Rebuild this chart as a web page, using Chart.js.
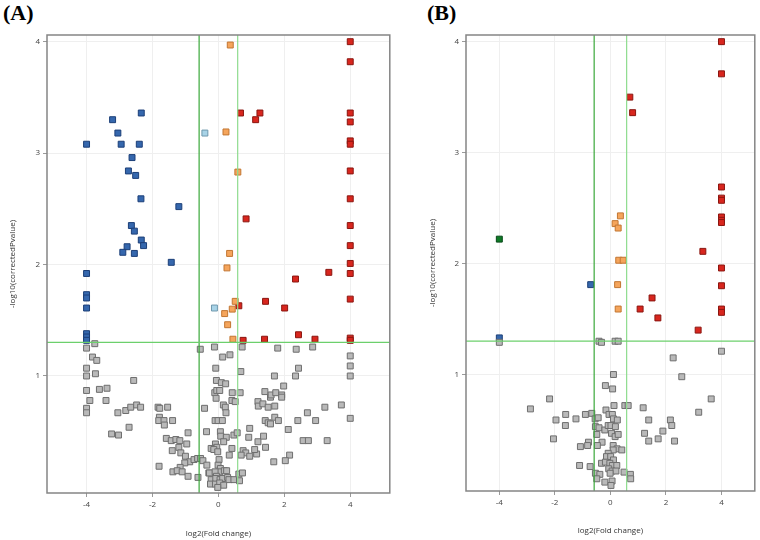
<!DOCTYPE html>
<html>
<head>
<meta charset="utf-8">
<script src="https://cdn.jsdelivr.net/npm/chart.js@4.4.0/dist/chart.umd.min.js"></script>
<style>
  body { margin: 0; background: #fff; width: 760px; height: 540px; overflow: hidden; position: relative; }
  .panel { position: absolute; top: 0; height: 540px; }
  .tag { position: absolute; top: 0; font: bold 22px "Liberation Serif", serif; color: #000; }
</style>
</head>
<body>
<div class="tag" style="left:3px">(A)</div>
<div class="tag" style="left:427px">(B)</div>
<div class="panel" style="left:0;width:395px"><canvas id="chartA"></canvas></div>
<div class="panel" style="left:420px;width:340px"><canvas id="chartB"></canvas></div>
<script>
// thresholds: |log2 FC| > log2(1.5), corrected p < 0.05
var FC_LO = -0.585;
var FC_HI = 0.585;
var P_CUT = 1.301;
var xTicks = [-4, -2, 0, 2, 4];
var yTicks = [1, 2, 3, 4];

// Panel A, [log2 fold change, -log10 corrected p]
var aDown = [[-2.34,3.36],[-3.21,3.30],[-3.05,3.18],[-4,3.08],[-2.95,3.08],[-2.40,3.08],[-2.62,2.96],
  [-2.73,2.84],[-2.51,2.80],[-2.35,2.59],[-1.20,2.52],[-2.64,2.35],[-2.55,2.30],[-2.34,2.22],[-2.27,2.17],
  [-2.77,2.16],[-2.90,2.11],[-2.55,2.10],[-1.43,2.02],[-4,1.92],[-4,1.73],[-4,1.70],[-4,1.61],
  [-4,1.38],[-4,1.35],[-4,1.32]];
var aDownSmall = [[-0.41,3.18],[-0.12,1.61]];
var aUpSmall = [[0.36,3.97],[0.23,3.19],[0.59,2.83],[0.34,2.10],[0.26,1.97],[0.51,1.67],[0.42,1.60],
  [0.19,1.56],[0.28,1.46],[0.44,1.33]];
var aUp = [[0.67,3.36],[1.26,3.36],[1.13,3.30],[0.84,2.41],[2.34,1.87],[3.35,1.93],[0.62,1.63],
  [1.43,1.67],[2.01,1.61],[0.75,1.32],[1.40,1.33],[2.43,1.37],[2.93,1.33],
  [4,4.0],[4,3.82],[4,3.36],[4,3.28],[4,3.11],[4,3.08],[4,2.84],[4,2.59],[4,2.35],[4,2.17],
  [4,2.01],[4,1.92],[4,1.69],[4,1.34],[4,1.32]];
var aNone = [[-4,1.25],[-3.75,1.29],[-3.82,1.17],[-3.69,1.14],[-4,1.07],[-4,1.0],[-3.73,1.02],[-2.57,0.96],
  [-4,0.87],[-3.61,0.88],[-3.38,0.89],[-3.9,0.78],[-3.41,0.78],[-4,0.71],[-4,0.67],[-3.05,0.67],
  [-2.81,0.69],[-2.66,0.72],[-2.48,0.74],[-2.36,0.72],[-1.83,0.72],[-1.78,0.71],[-1.54,0.72],
  [-1.79,0.63],[-1.81,0.60],[-1.65,0.60],[-1.64,0.56],[-1.39,0.60],[-2.71,0.54],[-3.24,0.48],
  [-3.03,0.47],[-0.92,0.49],[-1.58,0.44],[-1.43,0.42],[-1.29,0.43],[-1.17,0.42],[-0.96,0.39],
  [-1.20,0.36],[-1.40,0.33],[-1.14,0.31],[-1.0,0.28],[-0.87,0.23],[-0.74,0.25],[-0.63,0.26],
  [-0.54,0.26],[-0.47,0.24],[-1.02,0.22],[-1.16,0.18],[-1.80,0.19],[-1.38,0.14],[-1.25,0.15],
  [-1.10,0.14],[-0.92,0.10],[-0.62,0.09],[-0.35,0.20],[-0.29,0.13],[-0.42,0.71],[-0.36,0.50],
  [-0.55,1.24],[-0.12,1.26],[0.13,1.17],[0.35,1.19],[0.72,1.26],[-0.08,1.07],[0.68,1.04],
  [-0.06,0.96],[0.09,0.94],[0.22,0.93],[-0.11,0.85],[-0.05,0.87],[0.04,0.87],[0.42,0.85],
  [0.66,0.85],[-0.07,0.80],[0.41,0.78],[0.51,0.77],[0.15,0.74],[0.21,0.72],[0.23,0.67],
  [-0.10,0.60],[-0.01,0.60],[0.12,0.60],[0.06,0.50],[0.07,0.46],[0.24,0.45],[0.47,0.47],
  [0.57,0.49],[-0.09,0.39],[-0.05,0.36],[-0.22,0.35],[-0.14,0.34],[0.41,0.35],[0.16,0.41],
  [0.33,0.29],[-0.02,0.32],[0.02,0.25],[-0.01,0.20],[0.06,0.17],[0.04,0.14],[0.18,0.15],
  [0.25,0.15],[-0.27,0.13],[-0.10,0.14],[-0.06,0.10],[-0.22,0.07],[-0.08,0.08],[0.05,0.07],
  [0.13,0.08],[0.28,0.09],[0.32,0.07],[0.47,0.07],[0.62,0.12],[0.73,0.13],[0.64,0.06],
  [-0.24,0.03],[-0.09,0.03],[0.04,0.04],[0.16,0.02],[-0.02,0.0],[0.75,0.33],[0.83,0.31],
  [0.69,0.29],[0.95,0.28],[1.16,0.30],[0.92,0.45],[0.95,0.53],[1.20,0.41],[1.37,0.46],
  [1.10,0.34],[1.43,0.36],[1.20,0.77],[1.21,0.73],[1.35,0.75],[1.51,0.72],[1.71,0.73],
  [1.41,0.86],[1.58,0.81],[1.60,0.83],[1.74,0.85],[1.92,0.83],[1.92,0.81],[1.98,0.91],
  [1.71,0.63],[1.42,0.60],[1.51,0.58],[1.58,0.57],[1.82,0.60],[2.41,0.60],[2.70,0.67],
  [2.95,0.60],[3.23,0.72],[3.73,0.74],[4,0.62],[2.12,0.52],[2.57,0.42],[2.73,0.42],
  [3.30,0.42],[2.16,0.29],[2.03,0.24],[1.68,0.23],[1.70,1.0],[2.34,1.0],[2.43,1.07],
  [1.80,1.25],[2.36,1.24],[2.86,1.26],[4,1.18],[4,1.09],[4,1.0]];

// Panel B
var bDown = [[-0.71,1.81],[-4,1.33]];
var bDownOnly = [[-4,2.22]];
var bUpSmall = [[0.36,2.43],[0.17,2.36],[0.28,2.32],[0.30,2.03],[0.46,2.03],[0.26,1.81],[0.28,1.59]];
var bUp = [[4,4.0],[4,3.71],[0.70,3.50],[0.80,3.36],[4,2.69],[4,2.59],[4,2.57],[4,2.42],[4,2.39],
  [4,2.37],[3.33,2.11],[4,1.96],[4,1.80],[1.50,1.69],[4,1.59],[4,1.56],[1.07,1.59],[1.71,1.51],
  [3.16,1.40]];
var bNone = [[-4,1.29],[-0.41,1.30],[-0.32,1.29],[0.17,1.30],[0.28,1.30],[4,1.21],[2.26,1.15],
  [2.57,0.98],[0.11,1.0],[-0.18,0.90],[0.08,0.87],[-2.19,0.78],[3.63,0.78],[-2.88,0.69],
  [0.13,0.72],[0.52,0.72],[0.64,0.72],[1.18,0.70],[3.18,0.66],[-1.61,0.64],[-0.90,0.64],
  [-0.67,0.65],[-0.16,0.68],[-1.24,0.60],[-1.96,0.59],[-0.55,0.60],[-0.44,0.61],[-0.05,0.64],
  [0.07,0.64],[0.11,0.60],[0.25,0.59],[1.38,0.59],[2.16,0.59],[2.21,0.54],[-1.62,0.54],
  [-0.54,0.53],[-0.41,0.52],[-0.20,0.50],[-0.08,0.54],[0.02,0.54],[0.18,0.53],[1.89,0.49],
  [0.04,0.47],[0.17,0.44],[0.28,0.46],[-0.49,0.46],[1.23,0.47],[-2.05,0.42],[1.38,0.40],
  [1.72,0.42],[2.31,0.40],[-0.79,0.39],[-0.30,0.39],[-0.47,0.36],[-1.08,0.35],[-0.82,0.36],
  [0.10,0.36],[0.24,0.33],[0.41,0.32],[0.10,0.32],[-0.08,0.29],[-0.14,0.26],[0.01,0.26],
  [0.11,0.23],[-0.32,0.20],[-0.18,0.21],[-0.02,0.20],[0.07,0.18],[0.23,0.18],[-1.11,0.18],
  [-0.73,0.17],[-0.06,0.15],[0.06,0.13],[0.20,0.13],[-0.54,0.11],[-0.38,0.10],[-0.01,0.11],
  [0.49,0.12],[0.72,0.10],[0.73,0.06],[-0.49,0.06],[0.06,0.04],[-0.20,0.03],[0.02,0.0]];

var styles = {
  none:      { fill: '#b9b9b9', edge: '#6e6e6e' },
  down:      { fill: '#3567ad', edge: '#1c3f78' },
  downSmall: { fill: '#a8d3e7', edge: '#6f98ad' },
  downOnly:  { fill: '#0f7a26', edge: '#064818' },
  upSmall:   { fill: '#f5a55c', edge: '#c27632' },
  up:        { fill: '#d8261e', edge: '#8a1610' }
};

function pts(arr) {
    return arr.map(function (p) { return { x: p[0], y: p[1] }; });
}

function pointSet(arr, st) {
    return {
        type: 'scatter',
        data: pts(arr),
        pointStyle: 'rect',
        pointRadius: 4.2,
        backgroundColor: st.fill,
        borderColor: st.edge,
        borderWidth: 1
    };
}

function cutLine(a, b, color) {
    return {
        type: 'line',
        data: [a, b],
        borderColor: color,
        borderWidth: 1.2,
        pointRadius: 0,
        fill: false
    };
}

// grey frame round the plot area
var framePlugin = {
    id: 'frame',
    afterDraw: function (chart) {
        var a = chart.chartArea, ctx = chart.ctx;
        ctx.save();
        ctx.strokeStyle = '#858585';
        ctx.lineWidth = 1.5;
        ctx.strokeRect(a.left, a.top, a.right - a.left, a.bottom - a.top);
        ctx.restore();
    }
};

function makeChart(id, sets, box) {
    var yMin = -0.05, yMax = 4.06, xMin = -5.2, xMax = 5.2;
    var datasets = [
        cutLine({ x: xMin, y: P_CUT }, { x: xMax, y: P_CUT }, '#6cd06c'),
        cutLine({ x: FC_LO, y: yMin }, { x: FC_LO, y: yMax }, '#3aa83a'),
        cutLine({ x: FC_HI, y: yMin }, { x: FC_HI, y: yMax }, '#8edc8e')
    ];
    sets.forEach(function (s) { datasets.push(pointSet(s[0], styles[s[1]])); });

    var tickFont = { family: 'Open Sans', size: 8 };
    return new Chart(document.getElementById(id), {
        data: { datasets: datasets },
        plugins: [framePlugin],
        options: {
            responsive: true,
            maintainAspectRatio: false,
            animation: false,
            layout: { padding: { top: 35, right: box.right, left: 0, bottom: 0 } },
            plugins: { legend: { display: false }, tooltip: { enabled: false } },
            scales: {
                x: {
                    type: 'linear', min: xMin, max: xMax,
                    afterBuildTicks: function (s) { s.ticks = xTicks.map(function (v) { return { value: v }; }); },
                    afterFit: function (s) { s.height = box.xh; },
                    grid: { color: '#efefef', tickLength: 4, tickColor: '#9a9a9a' },
                    border: { display: false },
                    ticks: { font: tickFont, color: '#444', padding: 3 },
                    title: { display: true, text: 'log2(Fold change)', font: { family: 'Open Sans', size: 8 },
                             color: '#333', padding: { top: 0, bottom: box.xt } }
                },
                y: {
                    type: 'linear', min: yMin, max: yMax,
                    afterBuildTicks: function (s) { s.ticks = yTicks.map(function (v) { return { value: v }; }); },
                    afterFit: function (s) { s.width = box.yw; },
                    grid: { color: '#efefef', tickLength: 4, tickColor: '#9a9a9a' },
                    border: { display: false },
                    ticks: { font: tickFont, color: '#444', padding: 3 },
                    title: { display: true, text: '-log10(correctedPvalue)', font: { family: 'Open Sans', size: 8 },
                             color: '#333', padding: { top: box.yt, bottom: 0 } }
                }
            }
        }
    });
}

makeChart('chartA',
    [[aNone, 'none'], [aDown, 'down'], [aDownSmall, 'downSmall'], [aUpSmall, 'upSmall'], [aUp, 'up']],
    { right: 5, xh: 47, yw: 47, xt: 1, yt: 8 });
makeChart('chartB',
    [[bNone, 'none'], [bDown, 'down'], [bDownOnly, 'downOnly'], [bUpSmall, 'upSmall'], [bUp, 'up']],
    { right: 3, xh: 49, yw: 46, xt: 4, yt: 8 });
</script>
</body>
</html>
